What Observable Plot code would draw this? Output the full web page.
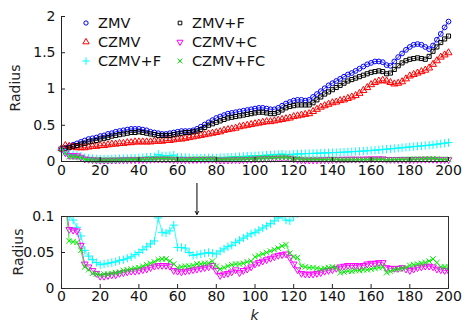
<!DOCTYPE html>
<html><head><meta charset="utf-8">
<script src="https://cdn.jsdelivr.net/npm/d3@7"></script>
<script src="https://cdn.jsdelivr.net/npm/@observablehq/plot@0.6"></script>
<style>
html,body{margin:0;padding:0;background:#fff;}
#chart{position:relative;width:462px;height:323px;font-family:"DejaVu Sans",sans-serif;}
#chart svg{position:absolute;left:0;}
</style></head><body><div id="chart"></div>
<script>
// k = 0, 2, 4, ..., 200
const kValues = d3.range(0, 201, 2);

const zmv = [
  .17,.19,.21,.23,.25,.27,.29,.31,.32,.33,
  .35,.36,.38,.39,.41,.42,.43,.44,.45,.45,
  .45,.44,.43,.41,.40,.39,.38,.38,.39,.40,
  .41,.42,.42,.42,.43,.45,.48,.51,.54,.57,
  .60,.62,.64,.66,.67,.68,.69,.70,.71,.72,
  .73,.74,.74,.73,.72,.72,.74,.77,.80,.82,
  .84,.85,.85,.84,.85,.89,.93,.97,1.01,1.05,
  1.08,1.11,1.14,1.17,1.20,1.22,1.25,1.28,1.31,1.34,
  1.36,1.38,1.38,1.37,1.33,1.32,1.38,1.44,1.49,1.54,
  1.58,1.61,1.62,1.61,1.58,1.55,1.60,1.68,1.76,1.85,
  1.93];

const zmvF = [
  .17,.18,.19,.21,.22,.24,.25,.27,.28,.29,
  .31,.32,.33,.35,.36,.37,.38,.39,.40,.40,
  .41,.40,.39,.38,.37,.36,.36,.36,.36,.37,
  .38,.39,.40,.40,.41,.42,.44,.47,.50,.52,
  .54,.56,.58,.60,.61,.62,.63,.64,.65,.66,
  .67,.68,.68,.67,.66,.66,.68,.71,.74,.76,
  .77,.78,.78,.78,.78,.81,.85,.89,.93,.96,
  .99,1.02,1.05,1.08,1.11,1.13,1.15,1.17,1.19,1.21,
  1.23,1.24,1.25,1.24,1.21,1.22,1.27,1.32,1.36,1.39,
  1.41,1.42,1.43,1.42,1.41,1.45,1.52,1.58,1.64,1.69,
  1.73];

const czmv = [
  .18,.22,.21,.20,.19,.19,.19,.20,.21,.21,
  .22,.22,.23,.24,.24,.25,.25,.26,.26,.27,
  .27,.27,.27,.27,.28,.28,.28,.29,.29,.30,
  .31,.31,.32,.33,.34,.35,.36,.37,.38,.39,
  .40,.41,.43,.44,.45,.46,.48,.49,.50,.51,
  .52,.53,.54,.55,.55,.56,.57,.58,.59,.60,
  .62,.63,.64,.65,.66,.69,.72,.75,.77,.79,
  .81,.82,.84,.85,.87,.89,.91,.94,.98,1.02,
  1.06,1.09,1.11,1.12,1.11,1.09,1.07,1.08,1.10,1.14,
  1.18,1.20,1.22,1.24,1.26,1.29,1.34,1.39,1.44,1.47,
  1.50];

const czmvF = [
  .17,.12,.10,.095,.085,.073,.053,.045,.040,.036,
  .033,.034,.035,.036,.037,.039,.040,.042,.044,.047,
  .050,.054,.058,.062,.066,.098,.078,.077,.080,.088,
  .057,.057,.056,.050,.046,.047,.048,.049,.050,.049,
  .048,.052,.055,.058,.060,.064,.067,.070,.073,.076,
  .078,.081,.084,.087,.090,.094,.098,.102,.095,.094,
  .100,.104,.106,.108,.110,.112,.114,.116,.118,.120,
  .122,.124,.126,.129,.132,.135,.138,.141,.144,.148,
  .152,.156,.160,.165,.170,.175,.180,.185,.190,.195,
  .200,.205,.210,.215,.220,.225,.230,.238,.245,.252,
  .26];

const czmvC = [
  .17,.12,.082,.081,.080,.060,.034,.030,.025,.021,
  .017,.017,.018,.019,.019,.021,.022,.023,.024,.024,
  .025,.026,.027,.029,.031,.032,.032,.032,.031,.025,
  .024,.023,.024,.025,.026,.027,.028,.029,.030,.032,
  .025,.018,.020,.021,.023,.026,.022,.025,.027,.030,
  .034,.036,.038,.040,.042,.044,.046,.047,.048,.043,
  .034,.026,.021,.020,.020,.020,.021,.022,.024,.025,
  .026,.028,.030,.031,.032,.032,.032,.031,.032,.034,
  .035,.035,.036,.036,.029,.028,.028,.028,.029,.027,
  .025,.027,.029,.030,.031,.031,.030,.027,.026,.025,
  .025];

const czmvFC = [
  .17,.12,.066,.065,.064,.053,.030,.026,.021,.020,
  .019,.020,.020,.021,.022,.023,.025,.026,.027,.028,
  .029,.031,.033,.035,.037,.040,.041,.041,.038,.034,
  .029,.030,.031,.031,.032,.034,.034,.035,.035,.038,
  .031,.027,.029,.031,.033,.034,.034,.035,.037,.038,
  .044,.046,.048,.050,.052,.054,.056,.059,.061,.049,
  .044,.043,.031,.030,.029,.029,.028,.027,.028,.029,
  .030,.029,.022,.023,.024,.024,.025,.025,.026,.026,
  .027,.028,.029,.030,.022,.024,.026,.027,.028,.029,
  .032,.033,.034,.035,.036,.038,.041,.036,.030,.030,
  .030];

const seriesNames = ["ZMV", "CZMV", "CZMV+F", "ZMV+F", "CZMV+C", "CZMV+FC"];
const seriesValues = [zmv, czmv, czmvF, zmvF, czmvC, czmvFC];
const seriesColors = ["#0000ff", "#ff0000", "#00ffff", "#000000", "#ff00ff", "#00ee00"];
const xTicks = d3.range(0, 201, 20);
const topYTicks = [0, 0.5, 1, 1.5, 2];
const bottomYTicks = [0, 0.05, 0.1];
const arrowK = [70];
const arrowFrom = [0.146];
const arrowTo = [0.103];

// symbols
const triDown = {
  draw(ctx, size) {
    const a = Math.sqrt(4 * size / Math.sqrt(3)), h = a * Math.sqrt(3) / 2;
    ctx.moveTo(0, 2 * h / 3); ctx.lineTo(-a / 2, -h / 3); ctx.lineTo(a / 2, -h / 3); ctx.closePath();
  }
};
const triUp = {
  draw(ctx, size) {
    const a = Math.sqrt(4 * size / Math.sqrt(3)), h = a * Math.sqrt(3) / 2;
    ctx.moveTo(0, -2 * h / 3); ctx.lineTo(-a / 2, h / 3); ctx.lineTo(a / 2, h / 3); ctx.closePath();
  }
};
const seriesSymbols = [d3.symbolCircle, triUp, d3.symbolPlus, d3.symbolSquare, triDown, d3.symbolTimes];
const plotSymbols = ["circle", triUp, "plus", "square", triDown, "times"];
const seriesR = [2.4, 2.6, 2.8, 2.3, 2.5, 2.6];

const seriesRows = seriesValues.map(vals => kValues.map((k, i) => ({k, v: vals[i]})));

function seriesMarks(which, clip) {
  const marks = [];
  which.forEach(i => {
    marks.push(Plot.line(seriesRows[i], {x: "k", y: "v", stroke: seriesColors[i], strokeWidth: 0.8, clip}));
    marks.push(Plot.dot(seriesRows[i], {x: "k", y: "v", symbol: plotSymbols[i], r: seriesR[i],
      stroke: seriesColors[i], fill: "none", strokeWidth: 1, clip}));
  });
  return marks;
}

const font = {fontFamily: "'DejaVu Sans', sans-serif", fontSize: "14px", color: "#111", background: "transparent", overflow: "visible"};

const topPlot = Plot.plot({
  width: 462, height: 180, marginLeft: 61, marginRight: 14, marginTop: 16, marginBottom: 19,
  style: font,
  x: {domain: [0, 200]},
  y: {domain: [0, 2]},
  marks: [
    ...seriesMarks([0, 1, 2, 3, 4, 5], false),
    Plot.ruleX([0], {y1: 0, y2: 2, stroke: "#222"}),
    Plot.ruleY([0], {x1: 0, x2: 200, stroke: "#222"}),
    Plot.axisX(xTicks, {tickSize: -4, tickPadding: 8, label: null, stroke: "#222"}),
    Plot.axisY(topYTicks, {tickSize: -4, tickPadding: 10, label: null, tickFormat: d => String(d), stroke: "#222"})
  ]
});

const bottomPlot = Plot.plot({
  width: 462, height: 143, marginLeft: 61, marginRight: 14, marginTop: 36, marginBottom: 35,
  style: font,
  x: {domain: [0, 200]},
  y: {domain: [0, 0.1]},
  marks: [
    ...seriesMarks([2, 4, 5], true),
    Plot.frame({stroke: "#333"}),
    Plot.axisX(xTicks, {tickSize: -4, tickPadding: 7, label: null, stroke: "#222"}),
    Plot.axisY(bottomYTicks, {tickSize: -4, tickPadding: 11, label: null, tickFormat: d => String(d), stroke: "#222"}),
    Plot.arrow(arrowK, {x1: d => d, x2: d => d, y1: (d, i) => arrowFrom[i], y2: (d, i) => arrowTo[i],
      stroke: "#000", strokeWidth: 1, headLength: 5})
  ]
});

const chart = document.getElementById("chart");
topPlot.style.top = "0px";
bottomPlot.style.top = "180px";
chart.appendChild(topPlot);
chart.appendChild(bottomPlot);

// axis titles
const ts = d3.select(topPlot);
ts.append("text").attr("transform", "translate(20,88) rotate(-90)").attr("text-anchor", "middle")
  .attr("font-size", 14).attr("fill", "#222").text("Radius");
const bs = d3.select(bottomPlot);
bs.append("text").attr("transform", "translate(23,72) rotate(-90)").attr("text-anchor", "middle")
  .attr("font-size", 14).attr("fill", "#222").text("Radius");
bs.append("text").attr("x", 254.5).attr("y", 140).attr("text-anchor", "middle")
  .attr("font-size", 14).attr("font-style", "italic").attr("fill", "#222").text("k");

// legend (two columns, three rows)
const legendCols = [86, 180];
const legendRows = [23, 42, 61];
seriesNames.forEach((name, i) => {
  const col = Math.floor(i / 3), row = i % 3;
  const g = ts.append("g").attr("transform", `translate(${legendCols[col]},${legendRows[row]})`);
  g.append("path").attr("d", d3.symbol(seriesSymbols[i], Math.PI * seriesR[i] * seriesR[i] * 0.8)())
    .attr("fill", "none").attr("stroke", seriesColors[i]).attr("stroke-width", 1);
  g.append("text").attr("x", 12).attr("dy", "0.36em").attr("text-anchor", "start")
    .attr("font-size", 14.5).attr("fill", "#111").text(name);
});
</script>
</body></html>
